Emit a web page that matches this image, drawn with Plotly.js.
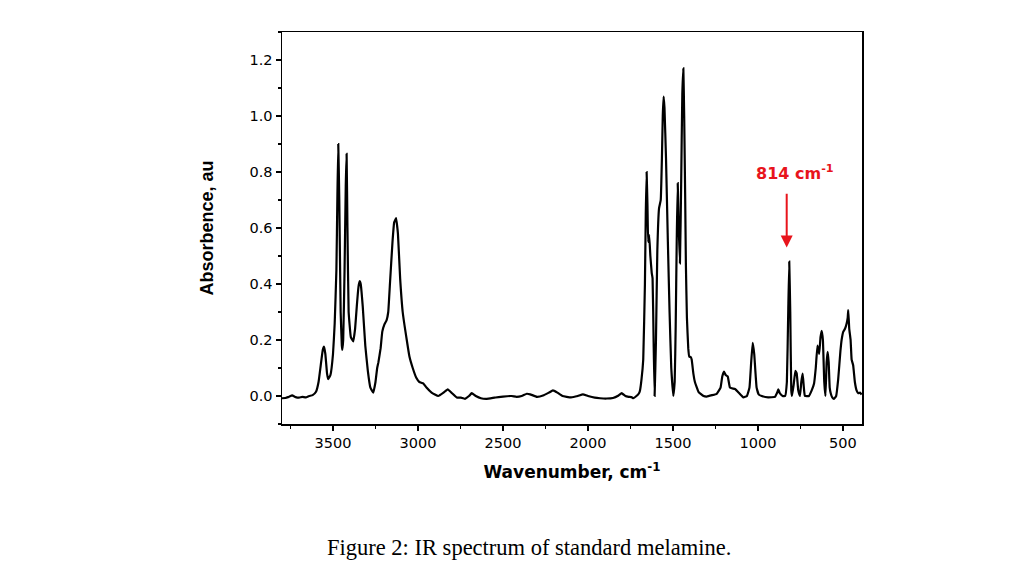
<!DOCTYPE html>
<html>
<head>
<meta charset="utf-8">
<script src="https://cdn.plot.ly/plotly-3.0.1.min.js"></script>
<style>html,body{margin:0;padding:0;background:#fff;}#chart{width:1024px;height:576px;}</style>
</head>
<body>
<div id="chart"></div>
<script>
// Wavenumber (cm^-1) and absorbance
const wavenumber = [3800,3780,3760,3740,3720,3700,3680,3660,3640,3620,3600,3585,3570,3560,3553,3545,3535,3528,3515,3500,3490,3480,3474,3469,3463,3455,3448,3445,3440,3432,3425,3420,3415,3408,3395,3381,3370,3360,3350,3343,3337,3325,3310,3295,3280,3263,3250,3240,3233,3220,3210,3198,3185,3175,3165,3150,3140,3129,3118,3105,3090,3066,3050,3031,3010,2992,2969,2950,2920,2881,2850,2825,2800,2772,2748,2724,2700,2684,2660,2630,2596,2550,2500,2450,2420,2390,2360,2340,2300,2260,2230,2206,2180,2150,2100,2060,2030,2000,1960,1929,1890,1853,1820,1802,1780,1760,1745,1733,1715,1700,1694,1685,1675,1665,1660,1655,1650,1646,1640,1633,1625,1620,1614,1608,1600,1592,1582,1572,1565,1560,1555,1550,1541,1530,1520,1510,1498,1490,1484,1478,1472,1466,1459,1452,1445,1439,1434,1428,1424,1418,1410,1404,1396,1390,1380,1371,1350,1320,1302,1270,1243,1220,1210,1200,1190,1178,1165,1150,1135,1110,1086,1065,1050,1040,1031,1022,1008,995,978,940,900,885,880,872,855,840,830,822,816,810,804,800,790,780,772,763,753,745,737,730,724,700,684,670,660,650,640,632,625,618,610,603,596,590,584,578,572,563,553,540,528,515,508,498,488,478,472,469,463,455,449,440,430,420,410,400,390];
const absorbance = [-0.008,-0.007,-0.003,0.002,-0.004,-0.006,-0.003,-0.005,0.0,0.003,0.015,0.05,0.12,0.165,0.176,0.15,0.08,0.06,0.075,0.15,0.26,0.45,0.72,0.90,0.70,0.30,0.18,0.165,0.20,0.45,0.75,0.865,0.60,0.30,0.21,0.195,0.24,0.32,0.39,0.41,0.40,0.32,0.18,0.09,0.03,0.012,0.05,0.10,0.12,0.17,0.23,0.255,0.27,0.30,0.40,0.55,0.62,0.635,0.58,0.42,0.30,0.20,0.14,0.10,0.065,0.05,0.045,0.03,0.012,0.0,0.012,0.024,0.01,-0.005,-0.006,-0.01,0.0,0.01,0.0,-0.008,-0.01,-0.006,-0.002,0.0,-0.003,0.0,0.008,0.006,-0.003,0.003,0.012,0.02,0.012,0.0,-0.005,0.0,0.006,0.0,-0.006,-0.008,-0.009,-0.007,0.002,0.01,0.0,-0.003,-0.004,-0.008,0.0,0.01,0.02,0.06,0.13,0.40,0.65,0.80,0.68,0.55,0.575,0.50,0.44,0.42,0.20,0.0,0.20,0.52,0.67,0.70,0.85,1.0,1.069,1.03,0.85,0.55,0.30,0.10,0.0,0.05,0.25,0.55,0.76,0.60,0.474,0.75,1.08,1.17,1.0,0.70,0.47,0.28,0.17,0.14,0.14,0.13,0.08,0.05,0.015,0.0,-0.002,0.003,0.008,0.03,0.07,0.087,0.075,0.07,0.03,0.027,0.025,0.01,-0.005,0.0,0.03,0.12,0.19,0.15,0.03,0.005,0.0,-0.005,-0.003,0.015,0.024,0.01,0.0,0.0,0.05,0.30,0.48,0.30,0.02,0.0,0.04,0.09,0.08,0.02,0.0,0.05,0.08,0.03,0.0,0.0,0.02,0.045,0.10,0.18,0.15,0.21,0.233,0.20,0.05,0.0,0.12,0.158,0.12,0.03,0.01,-0.005,-0.01,0.0,0.06,0.16,0.20,0.23,0.24,0.26,0.28,0.307,0.24,0.20,0.13,0.11,0.05,0.02,0.01,0.012,0.005];

const xTitle = 'Wavenumber, cm<sup>-1</sup>';
const yTitle = 'Absorbence, au';
const peakLabel = '814 cm<sup>-1</sup>';
const caption = 'Figure 2: IR spectrum of standard melamine.';

const trace = {
  x: wavenumber, y: absorbance, type: 'scatter', mode: 'lines',
  line: {color: '#000', width: 2.2, shape: 'spline', smoothing: 0.3},
  hoverinfo: 'skip'
};

const layout = {
  width: 1024, height: 576,
  margin: {l: 282, r: 162, t: 32, b: 152},
  paper_bgcolor: '#fff', plot_bgcolor: '#fff',
  showlegend: false,
  xaxis: {
    range: [3800, 388], showgrid: false, zeroline: false,
    showline: true, mirror: true, linecolor: '#000', linewidth: 1.5,
    ticks: 'outside', ticklen: 5, tickwidth: 1.3, tickcolor: '#000',
    dtick: 500, tick0: 500,
    minor: {ticks: 'outside', ticklen: 3, tickwidth: 1.2, tickcolor: '#000', dtick: 250, tick0: 250},
    tickfont: {family: 'DejaVu Sans', size: 14.5, color: '#000'},
    title: {text: xTitle, standoff: 16, font: {family: 'DejaVu Sans', size: 17, color: '#000', weight: 'bold'}}
  },
  yaxis: {
    range: [-0.1, 1.3], showgrid: false, zeroline: false,
    showline: true, mirror: true, linecolor: '#000', linewidth: 1.5,
    ticks: 'outside', ticklen: 5, tickwidth: 1.3, tickcolor: '#000',
    dtick: 0.2, tick0: 0, tickformat: '.1f',
    minor: {ticks: 'outside', ticklen: 3, tickwidth: 1.2, tickcolor: '#000', dtick: 0.1, tick0: 0},
    tickfont: {family: 'DejaVu Sans', size: 14.5, color: '#000'},
    title: {text: yTitle, standoff: 31, font: {family: 'Liberation Sans', size: 18, color: '#000', weight: 'bold'}}
  },
  annotations: [
    {x: 831, y: 0.53, ax: 831, ay: 0.7275, xref: 'x', yref: 'y', axref: 'x', ayref: 'y',
     text: '', showarrow: true, arrowhead: 2, arrowsize: 1.2, arrowwidth: 2, arrowcolor: '#e8141c'},
    {x: 782, y: 0.80, xref: 'x', yref: 'y', text: peakLabel, showarrow: false,
     font: {family: 'DejaVu Sans', size: 16, color: '#e8141c', weight: 'bold'}},
    {x: 0.425, y: -0.316, xref: 'paper', yref: 'paper', text: caption, showarrow: false,
     xanchor: 'center', yanchor: 'middle',
     font: {family: 'Liberation Serif', size: 22.5, color: '#000'}}
  ]
};

Plotly.newPlot('chart', [trace], layout, {staticPlot: true, displayModeBar: false});
</script>
</body>
</html>
